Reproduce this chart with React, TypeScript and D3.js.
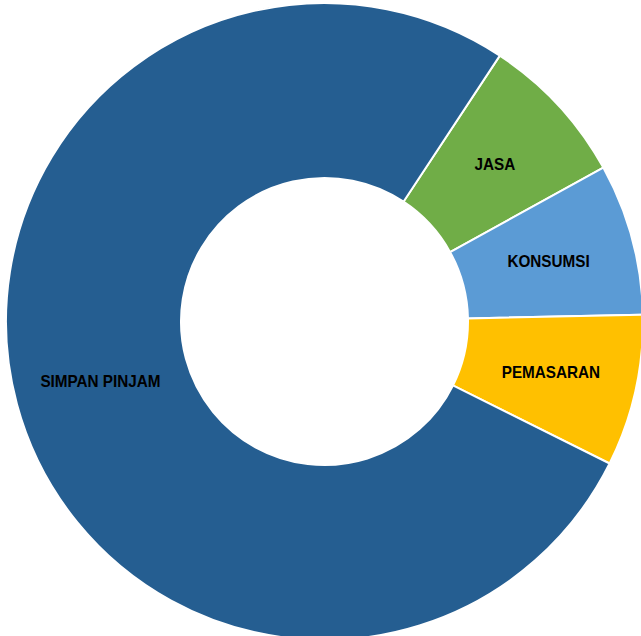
import React from "react";
import * as d3 from "d3";

const categories = ["JASA", "KONSUMSI", "PEMASARAN", "SIMPAN PINJAM"];
const values = [1, 1, 1, 10];
const colors = ["#70AD47", "#5B9BD5", "#FFC000", "#255E91"];

const W = 641;
const H = 636;
const cx = 324.5;
const cy = 321.5;
const outerR = 318.5;
const innerR = 143.5;
const labelR = 232;
const startDeg = 33.4;

export default function App() {
  const pie = d3
    .pie<number>()
    .sort(null)
    .startAngle((startDeg * Math.PI) / 180)
    .endAngle((startDeg * Math.PI) / 180 + 2 * Math.PI);
  const arcs = pie(values);
  const arc = d3.arc<d3.PieArcDatum<number>>().innerRadius(innerR).outerRadius(outerR);
  const labelArc = d3.arc<d3.PieArcDatum<number>>().innerRadius(labelR).outerRadius(labelR);
  return (
    <svg
      width={W}
      height={H}
      style={{ position: "absolute", left: 0, top: 0, display: "block" }}
    >
      <rect width={W} height={H} fill="#ffffff" />
      <g transform={`translate(${cx},${cy})`}>
        {arcs.map((a, i) => (
          <path key={categories[i]} d={arc(a) || ""} fill={colors[i]} stroke="#ffffff" strokeWidth={2} />
        ))}
        {arcs.map((a, i) => {
          const [x, y] = labelArc.centroid(a);
          return (
            <g key={"t" + categories[i]} transform={`translate(${x},${y}) scale(0.955,1)`}>
              <text
                x={0}
                y={0}
                textAnchor="middle"
                dominantBaseline="central"
                fontFamily="'Liberation Sans', Arial, sans-serif"
                fontWeight="bold"
                fontSize={16}
                fill="#000000"
              >
                {categories[i]}
              </text>
            </g>
          );
        })}
      </g>
    </svg>
  );
}
